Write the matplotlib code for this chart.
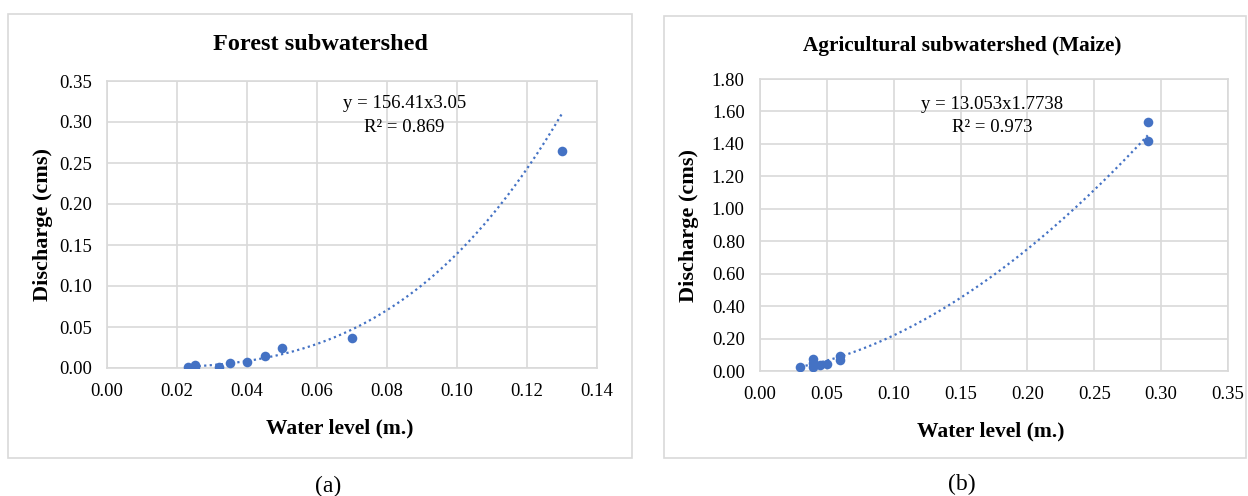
import numpy as np
import matplotlib.pyplot as plt
from matplotlib.patches import Rectangle

plt.rcParams['font.family'] = ['Liberation Serif', 'DejaVu Serif']

# forest subwatershed
forest_level = [0.023, 0.025, 0.025, 0.032, 0.035, 0.040, 0.045, 0.050, 0.070, 0.130]
forest_q = [0.001, 0.004, 0.001, 0.001, 0.006, 0.007, 0.015, 0.025, 0.036, 0.265]
forest_a, forest_b = 156.41, 3.05

# agricultural subwatershed (maize)
agri_level = [0.030, 0.040, 0.040, 0.040, 0.045, 0.050, 0.060, 0.060, 0.290, 0.290]
agri_q = [0.025, 0.075, 0.050, 0.025, 0.040, 0.045, 0.090, 0.070, 1.535, 1.420]
agri_a, agri_b = 13.053, 1.7738

blue = '#4472C4'
grid_c = '#d9d9d9'
W, H = 1248, 496


def box(x0, y0, x1, y1):
    # pixel box -> figure fraction [left, bottom, width, height]
    return [x0 / W, 1 - y1 / H, (x1 - x0) / W, (y1 - y0) / H]


def panel(ax, xs, ys, a, b, xmax, xstep, ymax, ystep, ylpad, xlx):
    ax.scatter(xs, ys, s=48, color=blue, zorder=3, linewidths=0)
    xx = np.linspace(min(xs), max(xs), 200)
    ax.plot(xx, a * xx ** b, color=blue, lw=1.6, ls=(0, (1, 1.5)), zorder=2)
    ax.set_xlim(0, xmax)
    ax.set_ylim(0, ymax)
    ax.set_xticks(np.arange(0, xmax + 1e-9, xstep))
    ax.set_yticks(np.arange(0, ymax + 1e-9, ystep))
    ax.xaxis.set_major_formatter(plt.FormatStrFormatter('%.2f'))
    ax.yaxis.set_major_formatter(plt.FormatStrFormatter('%.2f'))
    ax.grid(True, color=grid_c, lw=1.2)
    ax.set_axisbelow(True)
    for s in ax.spines.values():
        s.set_color(grid_c)
        s.set_linewidth(1.2)
    ax.tick_params(length=0, labelsize=13.5, pad=11)
    ax.set_xlabel('Water level (m.)', fontsize=15.5, fontweight='bold', labelpad=13)
    ax.xaxis.label.set_x(xlx)
    ax.set_ylabel('Discharge (cms)', fontsize=16, fontweight='bold', labelpad=ylpad)


fig = plt.figure(figsize=(W / 100, H / 100), dpi=100)

# outer frames
for x0, y0, x1, y1 in [(8, 14, 632, 458), (664, 16, 1246, 458)]:
    fig.patches.append(Rectangle((x0 / W, 1 - y1 / H), (x1 - x0) / W, (y1 - y0) / H,
                                 transform=fig.transFigure, fill=False,
                                 edgecolor=grid_c, lw=1.2))

ax1 = fig.add_axes(box(107, 81, 597, 368))
panel(ax1, forest_level, forest_q, forest_a, forest_b, 0.14, 0.02, 0.35, 0.05, 4, 0.475)
ax1.text(0.085, 0.323, 'y = 156.41x3.05', ha='center', va='center', fontsize=13.5)
ax1.text(0.085, 0.293, 'R² = 0.869', ha='center', va='center', fontsize=13.5)
fig.text(320 / W, 1 - 45 / H, 'Forest subwatershed', ha='center', va='center',
         fontsize=17.5, fontweight='bold')
fig.text(328 / W, 1 - 486 / H, '(a)', ha='center', va='center', fontsize=17)

ax2 = fig.add_axes(box(760, 79, 1228, 371))
panel(ax2, agri_level, agri_q, agri_a, agri_b, 0.35, 0.05, 1.8, 0.2, 9, 0.492)
ax2.text(0.1735, 1.64, 'y = 13.053x1.7738', ha='center', va='center', fontsize=13.5)
ax2.text(0.1735, 1.498, 'R² = 0.973', ha='center', va='center', fontsize=13.5)
fig.text(962 / W, 1 - 46 / H, 'Agricultural subwatershed (Maize)', ha='center',
         va='center', fontsize=15.3, fontweight='bold')
fig.text(962 / W, 1 - 484 / H, '(b)', ha='center', va='center', fontsize=17)

fig.savefig('out.png', dpi=100)
